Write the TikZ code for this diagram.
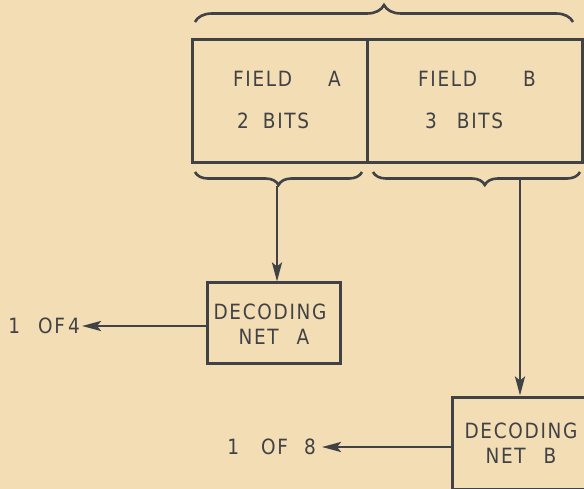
\documentclass[tikz,border=0pt]{standalone}
\usepackage{fontspec}
\setmainfont{DejaVu Sans}[LetterSpace=8,FakeStretch=0.88]
\usetikzlibrary{arrows.meta,decorations.pathreplacing,calc}
\definecolor{paper}{HTML}{F3DDB5}
\definecolor{ink}{HTML}{404245}
\begin{document}
\begin{tikzpicture}[x=1pt,y=-1pt,
  box/.style={draw=ink, line width=3pt, rectangle, inner sep=0pt},
  txt/.style={text=ink, inner sep=0pt, font=\fontsize{21}{25}\selectfont},
  arr/.style={draw=ink, line width=2.7pt, -{Stealth[length=19pt,width=10pt,inset=4pt]}},
  br/.style={draw=ink, line width=2.6pt, decorate, decoration={brace, amplitude=#1}}]
\fill[paper] (0,0) rectangle (584,489);
\useasboundingbox (0,0) rectangle (584,489);
\clip (0,0) rectangle (584,489);
% field boxes
\node[box, minimum width=175pt, minimum height=123pt] (fa) at (279.5,101.5) {};
\node[box, minimum width=215pt, minimum height=123pt] (fb) at (474.5,101.5) {};
\node[txt, align=left, anchor=west, font=\fontsize{21}{42}\selectfont] (fat) at (233,100) {FIELD\hspace{36pt}A\\\hspace{4pt}2\hspace{14pt}BITS};
\node[txt, align=left, anchor=west, font=\fontsize{21}{42}\selectfont] (fbt) at (418,100) {FIELD\hspace{46pt}B\\\hspace{7pt}3\hspace{20pt}BITS};
% braces
\draw[br=17] (195,22) -- (573,22);
\draw[br=13] (362,172) -- (195,172);
\draw[br=13, decoration={aspect=0.46}] (580,172) -- (373,172);
\coordinate (tipA) at (277,186);
\coordinate (tipB) at (520,180);
% decoding nets
\node[box, minimum width=133pt, minimum height=80pt] (na) at (273.5,323) {};
\node[txt, align=center] (nat) at (270,324) {DECODING\\\hspace{8pt}NET\hspace{18pt}A};
\node[box, minimum width=138pt, minimum height=92pt] (nb) at (521,443) {};
\node[txt, align=center] (nbt) at (521,443) {DECODING\\NET\hspace{18pt}B};
% outputs
\node[txt, anchor=east, inner xsep=2pt] (o4) at (82,326) {1\hspace{18pt}OF\hspace{3pt}4};
\node[txt, anchor=east, inner xsep=6pt] (o8) at (322,447) {1\hspace{22pt}OF\hspace{16pt}8};
% connectors
\draw[arr] (tipA) -- (tipA |- na.north);
\draw[arr] (tipB) -- (tipB |- nb.north);
\draw[arr] (na.west |- o4.east) -- (o4.east);
\draw[arr] (nb.west |- o8.east) -- (o8.east);
\end{tikzpicture}
\end{document}
